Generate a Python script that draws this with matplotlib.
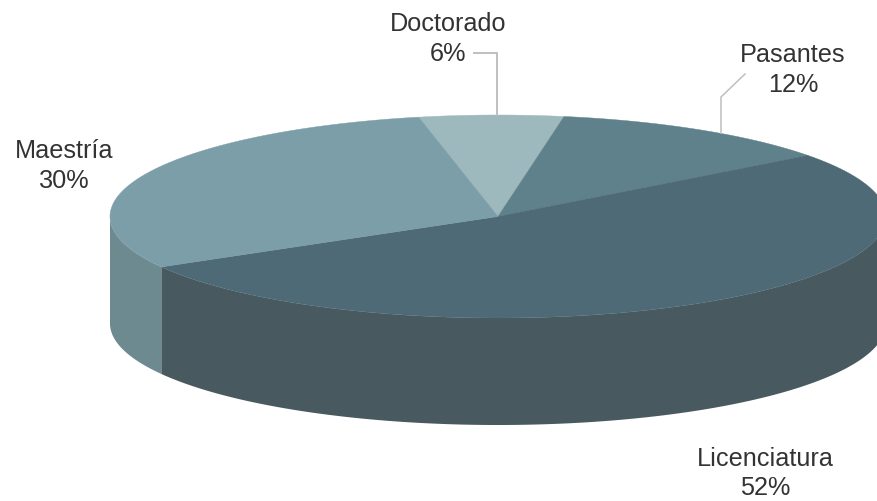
import matplotlib
matplotlib.use('Agg')
import matplotlib.pyplot as plt
import numpy as np

categories = ['Doctorado', 'Pasantes', 'Licenciatura', 'Maestría']
values = [6, 12, 52, 30]
top_colors = ['#9EB9BE', '#5F818B', '#4D6A76', '#7C9EA8']
side_colors = ['#8AA3A8', '#54707A', '#48595F', '#6D8A90']

plt.rcParams['font.family'] = ['Liberation Sans', 'DejaVu Sans']

fig = plt.figure(figsize=(8.77, 5.01), dpi=100)
ax = fig.add_axes([0, 0, 1, 1])
ax.set_xlim(0, 877)
ax.set_ylim(501, 0)
ax.axis('off')

# geometry of the pie in pixels
cx, cy = 498, 216.5
rx, ry = 388, 101.5
depth = 107
start_angle = 101.8


def ell(t):
    t = np.radians(t)
    return cx + rx * np.cos(t), cy - ry * np.sin(t)


# slices go clockwise from the start angle
spans = np.array(values) / sum(values) * 360
ends = start_angle - np.cumsum(spans)
starts = ends + spans

# side walls first, only the part that faces the viewer (180..360 deg)
for a0, a1, col in zip(starts, ends, side_colors):
    lo, hi = a1, a0
    for shift in (0, 360, -360):
        l = max(lo + shift, 180)
        h = min(hi + shift, 360)
        if h > l:
            t = np.linspace(l, h, 200)
            x, y = ell(t)
            ax.fill(np.r_[x, x[::-1]], np.r_[y, y[::-1] + depth], color=col, lw=0, zorder=1)

# top faces
for a0, a1, col in zip(starts, ends, top_colors):
    t = np.linspace(a0, a1, 300)
    x, y = ell(t)
    ax.fill(np.r_[cx, x], np.r_[cy, y], color=col, lw=0.3, ec=col, zorder=2)

# leader lines
line_col = '#BFBFBF'
ax.plot([474, 497, 497], [53, 53, 115], color=line_col, lw=1.4, zorder=3, solid_joinstyle='miter')
ax.plot([745, 721, 721], [74, 97, 133], color=line_col, lw=1.1, zorder=3, solid_joinstyle='miter')

# labels
label_pos = [(448, 39), (793, 70), (765.5, 473.5), (64, 166)]
for name, val, (lx, ly) in zip(categories, values, label_pos):
    ax.text(lx, ly, f'{name}\n{val}%', ha='center', va='center', fontsize=18.2,
            color='#333333', linespacing=1.3, zorder=4)

fig.savefig('out.png', dpi=100)
